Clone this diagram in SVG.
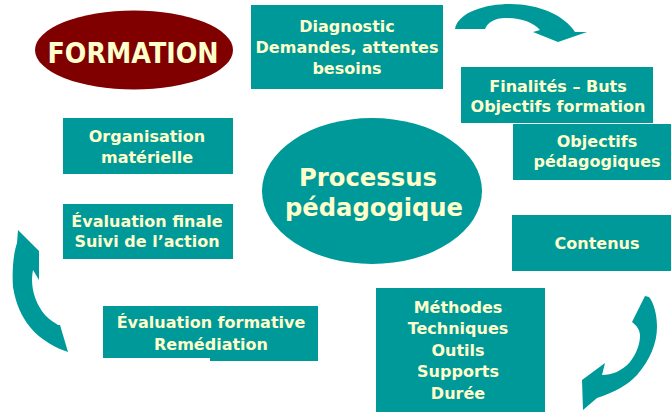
<svg xmlns="http://www.w3.org/2000/svg" width="671" height="412" viewBox="0 0 671 412">
<style>
.box{fill:#009999;}
.t{font-family:"DejaVu Sans","Verdana",sans-serif;font-weight:bold;font-size:16px;fill:#FFFFCC;text-anchor:middle;}
.big{font-size:25px;}
.arrow{fill:#009999;}
</style>
<rect width="671" height="412" fill="#ffffff"/>
<g id="formation">
<ellipse cx="134" cy="50" rx="99" ry="39.5" fill="#800000"/>
<text class="t" x="133" y="63" style="font-size:29px" textLength="171" lengthAdjust="spacingAndGlyphs">FORMATION</text>
</g>
<g id="diagnostic">
<rect class="box" x="251" y="5" width="192" height="84"/>
<text class="t" x="347" y="32">Diagnostic</text>
<text class="t" x="347" y="53">Demandes, attentes</text>
<text class="t" x="347" y="74">besoins</text>
</g>
<g id="finalites">
<rect class="box" x="461" y="67" width="192" height="56"/>
<text class="t" x="558" y="92">Finalités – Buts</text>
<text class="t" x="558" y="112">Objectifs formation</text>
</g>
<g id="objectifs">
<rect class="box" x="513" y="124" width="170" height="56"/>
<text class="t" x="597" y="147">Objectifs</text>
<text class="t" x="597" y="167">pédagogiques</text>
</g>
<g id="contenus">
<rect class="box" x="512" y="215" width="170" height="56"/>
<text class="t" x="597" y="249">Contenus</text>
</g>
<g id="methodes">
<rect class="box" x="376" y="288" width="169" height="130"/>
<text class="t" x="458" y="313">Méthodes</text>
<text class="t" x="458" y="334">Techniques</text>
<text class="t" x="458" y="356">Outils</text>
<text class="t" x="458" y="377">Supports</text>
<text class="t" x="458" y="399">Durée</text>
</g>
<g id="evaluation-formative">
<path class="box" d="M103,306 H318 V361 H210 V358 H103 Z"/>
<text class="t" x="211" y="328">Évaluation formative</text>
<text class="t" x="211" y="350">Remédiation</text>
</g>
<g id="evaluation-finale">
<rect class="box" x="63" y="204" width="170" height="55"/>
<text class="t" x="147" y="227">Évaluation finale</text>
<text class="t" x="147" y="247">Suivi de l’action</text>
</g>
<g id="organisation">
<rect class="box" x="63" y="118" width="170" height="56"/>
<text class="t" x="147" y="142">Organisation</text>
<text class="t" x="147" y="163">matérielle</text>
</g>
<g id="processus">
<ellipse cx="372" cy="191" rx="110" ry="73" fill="#009999"/>
<text class="t big" x="368" y="186" textLength="138" lengthAdjust="spacingAndGlyphs">Processus</text>
<text class="t big" x="374" y="216" textLength="178" lengthAdjust="spacingAndGlyphs">pédagogique</text>
</g>
<g id="connectors">
<path class="arrow" d="M455,29 C458,12 486,4 510,4 C540,4 565,16 575,32 L587,32 L558,42 L533,32 L540,30 C533,22 520,18 505,18 C495,18 488,22 485,29 Z"/>
<path class="arrow" d="M18,230 L39,251 L39,280 L33,270 C30,285 34,302 45,315 C50,320 55,323 58,325 L60,325 L68,352 C58,349 40,340 30,327 C22,317 16,305 13,287 C12,272 13,255 17,243 Z"/>
<path class="arrow" d="M645,296 L649,297 C654,303 657,315 657,327 C657,343 650,360 637,375 C628,385 615,392 597,398 L583,410 L582,380 L605,363 L602,375 C612,375 622,371 630,362 C637,353 640,343 640,336 C640,330 637,326 632,322 Z"/>
</g>
</svg>
